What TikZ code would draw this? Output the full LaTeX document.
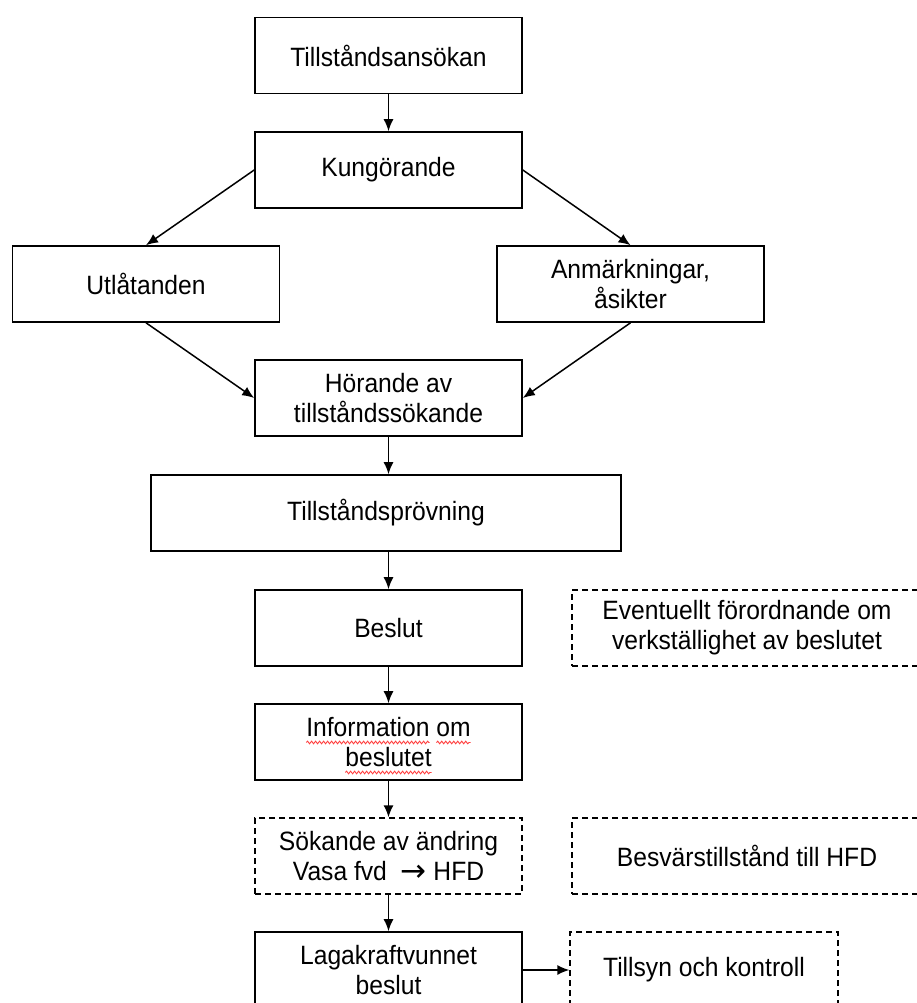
\documentclass[tikz,border=0pt]{standalone}
\usepackage{fontspec}
\setmainfont{Liberation Sans}[FakeStretch=0.93]
\newfontfamily\arrowfont{DejaVu Sans}
\usetikzlibrary{arrows.meta,decorations.pathmorphing}
\newcommand\squigword[1]{\setbox0\hbox{#1}\rlap{\tikz[overlay]\draw[red!75!white,line width=0.9pt,decorate,decoration={snake,amplitude=1.3pt,segment length=4pt}] (0pt,-6pt) -- (\wd0,-6pt);}#1}
\begin{document}
\begin{tikzpicture}[x=1pt,y=-1pt,
  box/.style={draw,line width=1.6pt,minimum width=267pt,minimum height=76pt,align=center,inner sep=2pt,
    font=\fontsize{26.5}{30}\selectfont},
  dbox/.style={box,line width=1.3pt,dash pattern=on 6pt off 4pt},
  arr/.style={line width=1.5pt,-{Latex[length=12pt,width=10pt]}}]
\useasboundingbox (0,0) rectangle (916,1003);
\node[box] (b1) at (388.5,55.5) {Tillståndsansökan};
\node[box] (b2) at (388.5,170) {Kungörande};
\node[box] (utl) at (146,284) {Utlåtanden};
\node[box] (anm) at (630.5,284) {Anmärkningar,\\åsikter};
\node[box] (hor) at (388.5,398) {Hörande av\\tillståndssökande};
\node[box,minimum width=470pt] (prov) at (386,513) {Tillståndsprövning};
\node[box] (bes) at (388.5,628) {Beslut};
\node[dbox,minimum width=350pt] (eve) at (747,628) {Eventuellt förordnande om\\verkställighet av beslutet};
\node[box] (info) at (388.5,742) {\squigword{Information} \squigword{om}\\\squigword{beslutet}};
\node[dbox] (sok) at (388.5,856) {Sökande av ändring\\Vasa fvd\ \ {\arrowfont\fontsize{31}{30}\selectfont\raisebox{-1pt}{→}} HFD};
\node[dbox,minimum width=350pt] (besv) at (747,856) {Besvärstillstånd till HFD};
\node[box] (laga) at (388.5,970) {Lagakraftvunnet\\beslut};
\node[dbox,minimum width=268pt] (tills) at (704,970) {Tillsyn och kontroll};
\draw[arr] (b1) -- (b2);
\draw[arr] (b2.west) -- (utl.north);
\draw[arr] (b2.east) -- (anm.north);
\draw[arr] (utl.south) -- (hor.west);
\draw[arr] (anm.south) -- (hor.east);
\draw[arr] (hor.south) -- (hor.south |- prov.north);
\draw[arr] (prov.south -| bes.north) -- (bes.north);
\draw[arr] (bes) -- (info);
\draw[arr] (info) -- (sok);
\draw[arr] (sok) -- (laga);
\draw[arr] (laga) -- (tills);
\end{tikzpicture}
\end{document}
